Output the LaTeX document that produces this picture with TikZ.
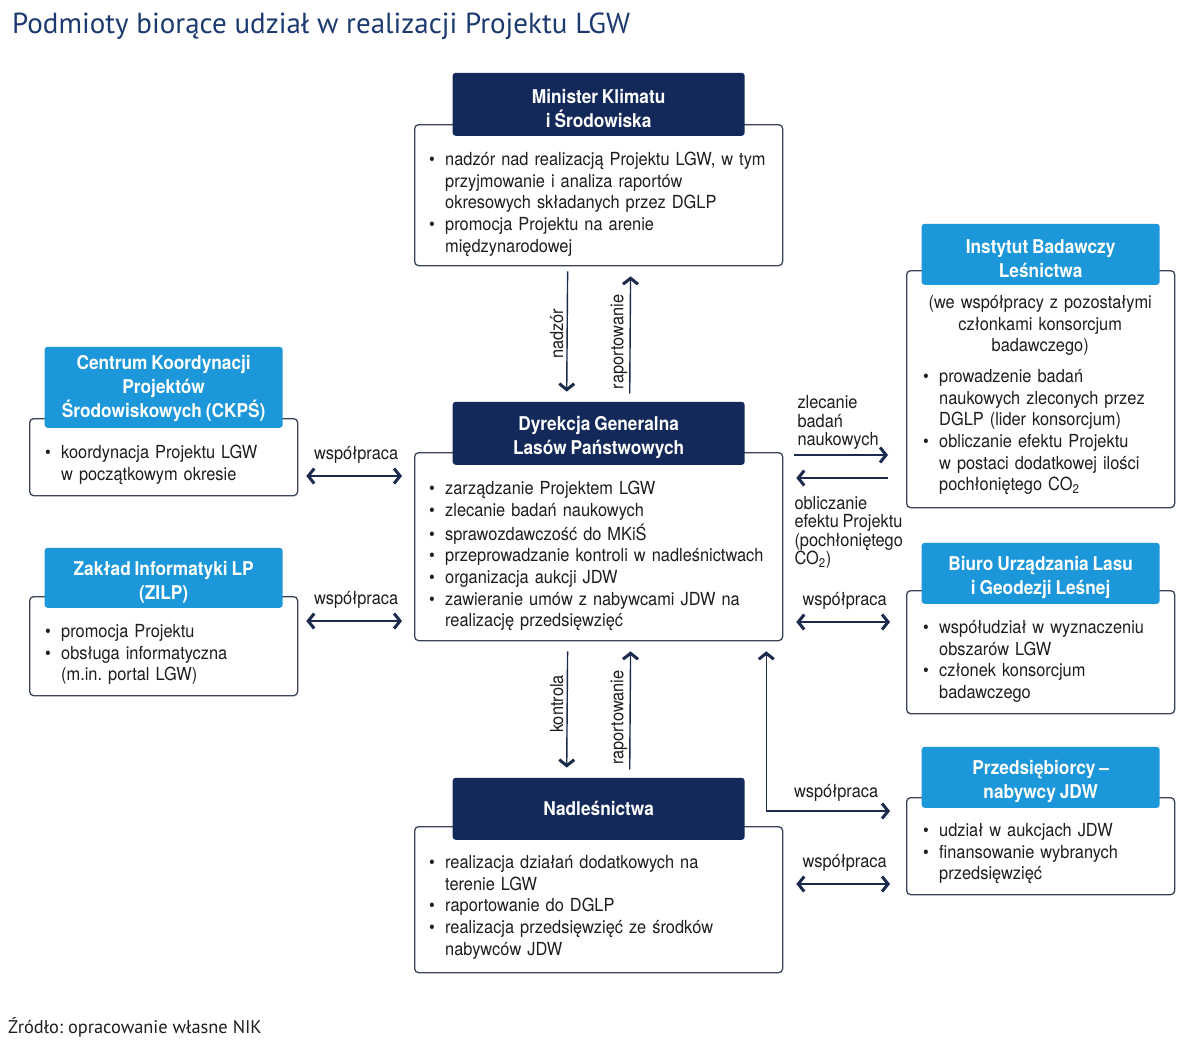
\documentclass[tikz,border=0pt]{standalone}
\usepackage{fontspec}
\setmainfont{TeX Gyre Heros}[FakeStretch=0.91, WordSpace=0.8]
\newfontfamily\titlefont{PT Sans}
\usetikzlibrary{positioning,arrows.meta}
\frenchspacing

\definecolor{navy}{HTML}{12295A}
\definecolor{sky}{HTML}{1B97DA}
\definecolor{ink}{HTML}{1E1E1E}
\definecolor{rim}{HTML}{3A4358}
\definecolor{linkcol}{HTML}{1C2A4E}
\definecolor{titlecol}{HTML}{1C3A70}

% bullet line with hanging indent, and a line break that keeps it
\newcommand\pkt{\par\noindent\hangindent=16pt\hangafter=1\strut\makebox[16pt][l]{\textbullet}}
\newcommand\lbr{\hfil\break}
% extra height on top of a header text
\newcommand\hs[1]{\rule{0pt}{#1}}

\tikzset{
  frame/.style={draw=rim, line width=1.3pt, rounded corners=4pt, fill=white,
    anchor=north west, inner sep=0pt},
  headDark/.style={fill=navy, rounded corners=3pt, text=white, align=center,
    font=\bfseries\fontsize{19}{24}\selectfont, minimum width=292pt,
    minimum height=63pt, inner sep=0pt},
  headLight/.style={headDark, fill=sky, minimum width=238pt, minimum height=61pt},
  items/.style={anchor=north west, inner sep=0pt, align=left, text=ink,
    font=\fontsize{18}{21.7}\selectfont},
  lbl/.style={text=ink, align=left, inner sep=0pt, font=\fontsize{18}{18.5}\selectfont},
  link/.style={draw=linkcol, line width=1.4pt,
    >={Straight Barb[length=6pt,width=15pt,line width=3pt]}},
}

\begin{document}
\begin{tikzpicture}[x=1pt, y=-1pt]

\useasboundingbox (0,0) rectangle (1200,1053);
\fill[white] (0,0) rectangle (1200,1053);

% title and source
\node[anchor=base west, inner sep=0pt, text=titlecol,
  font=\titlefont\fontsize{29}{31}\selectfont] (title) at (12,33)
  {Podmioty biorące udział w realizacji Projektu LGW};
\node[anchor=base west, inner sep=0pt, text=ink,
  font=\titlefont\fontsize{18.4}{20}\selectfont] (source) at (8,1033)
  {Źródło: opracowanie własne NIK};

% frames of the boxes
\path
 (414,124) node[frame, minimum width=368pt, minimum height=141pt] (mkisBody) {}
 (414,452) node[frame, minimum width=368pt, minimum height=188pt] (dglpBody) {}
 (414,826) node[frame, minimum width=368pt, minimum height=146pt] (nadlBody) {}
 (29,418)  node[frame, minimum width=268pt, minimum height=77pt]  (ckpsBody) {}
 (29,596)  node[frame, minimum width=268pt, minimum height=99pt]  (zilpBody) {}
 (906,270) node[frame, minimum width=268pt, minimum height=237pt] (iblBody) {}
 (906,590) node[frame, minimum width=268pt, minimum height=123pt] (buligBody) {}
 (906,797) node[frame, minimum width=268pt, minimum height=97pt]  (przedBody) {};

% headers, dark for the main chain, light for the partners
\node[headDark, above=-12pt of mkisBody.north] (mkisHead) {\hs{22pt}Minister Klimatu\\i Środowiska};
\node[headDark, above=-13pt of dglpBody.north] (dglpHead) {\hs{22pt}Dyrekcja Generalna\\Lasów Państwowych};
\node[headDark, above=-14pt of nadlBody.north, minimum height=62pt] (nadlHead) {Nadleśnictwa};
\node[headLight, above=-10pt of ckpsBody.north, minimum height=81pt] (ckpsHead)
  {\hs{17pt}Centrum Koordynacji\\Projektów\\Środowiskowych (CKPŚ)};
\node[headLight, above=-12pt of zilpBody.north, minimum height=60pt] (zilpHead)
  {\hs{23pt}Zakład Informatyki LP\\(ZILP)};
\node[headLight, above=-15pt of iblBody.north] (iblHead) {\hs{22pt}Instytut Badawczy\\Leśnictwa};
\node[headLight, above=-14pt of buligBody.north] (buligHead) {\hs{22pt}Biuro Urządzania Lasu\\i Geodezji Leśnej};
\node[headLight, above=-11pt of przedBody.north] (przedHead) {\hs{23pt}Przedsiębiorcy –\\nabywcy JDW};

% texts in the boxes
\node[items, text width=350pt] (mkisText) at ([xshift=15pt,yshift=-19.4pt]mkisBody.north west)
{\pkt nadzór nad realizacją Projektu LGW, w tym\lbr przyjmowanie i analiza raportów\lbr okresowych składanych przez DGLP
 \pkt promocja Projektu na arenie\lbr międzynarodowej\par};
\node[items, text width=350pt] (dglpText) at ([xshift=15pt,yshift=-20.4pt]dglpBody.north west)
{\pkt zarządzanie Projektem LGW
 \pkt zlecanie badań naukowych
 \pkt sprawozdawczość do MKiŚ
 \pkt przeprowadzanie kontroli w nadleśnictwach
 \pkt organizacja aukcji JDW
 \pkt zawieranie umów z nabywcami JDW na\lbr realizację przedsięwzięć\par};
\node[items, text width=350pt] (nadlText) at ([xshift=15pt,yshift=-20.4pt]nadlBody.north west)
{\pkt realizacja działań dodatkowych na\lbr terenie LGW
 \pkt raportowanie do DGLP
 \pkt realizacja przedsięwzięć ze środków\lbr nabywców JDW\par};
\node[items, text width=250pt] (ckpsText) at ([xshift=16pt,yshift=-18.4pt]ckpsBody.north west)
{\pkt koordynacja Projektu LGW\lbr w początkowym okresie\par};
\node[items, text width=250pt] (zilpText) at ([xshift=16pt,yshift=-19.4pt]zilpBody.north west)
{\pkt promocja Projektu
 \pkt obsługa informatyczna\lbr (m.in. portal LGW)\par};
\node[items, text width=234pt] (iblText) at ([xshift=17pt,yshift=-23pt]iblBody.north west)
{{\centering\strut(we współpracy z pozostałymi\\ członkami konsorcjum\\ badawczego)\par}
 \vspace{9pt}
 \pkt prowadzenie badań\lbr naukowych zleconych przez\lbr DGLP (lider konsorcjum)
 \pkt obliczanie efektu Projektu\lbr w postaci dodatkowej ilości\lbr pochłoniętego CO\textsubscript{2}\par};
\node[items, text width=250pt] (buligText) at ([xshift=17pt,yshift=-21.4pt]buligBody.north west)
{\pkt współudział w wyznaczeniu\lbr obszarów LGW
 \pkt członek konsorcjum\lbr badawczego\par};
\node[items, text width=250pt] (przedText) at ([xshift=17pt,yshift=-17.4pt]przedBody.north west)
{\pkt udział w aukcjach JDW
 \pkt finansowanie wybranych\lbr przedsięwzięć\par};

% minister <-> dglp
\draw[link, ->, shorten <=5pt, shorten >=10pt] ([xshift=-31pt]mkisBody.south) -- ([xshift=-32pt]dglpHead.north)
  node[lbl, pos=0.5, rotate=90, anchor=south, yshift=3pt] {nadzór};
\draw[link, ->, shorten <=8pt, shorten >=10pt] ([xshift=31pt]dglpHead.north) -- ([xshift=32pt]mkisBody.south)
  node[lbl, pos=0.44, rotate=90, anchor=south, yshift=2pt] {raportowanie};

% dglp <-> nadlesnictwa
\draw[link, ->, shorten <=10pt, shorten >=10pt] ([xshift=-31pt]dglpBody.south) -- ([xshift=-32pt]nadlHead.north)
  node[lbl, pos=0.46, rotate=90, anchor=south, yshift=3pt] {kontrola};
\draw[link, ->, shorten <=8pt, shorten >=10pt] ([xshift=31pt]nadlHead.north) -- ([xshift=32pt]dglpBody.south)
  node[lbl, pos=0.44, rotate=90, anchor=south, yshift=2pt] {raportowanie};

% left partners
\draw[link, <->, shorten <=8pt, shorten >=12pt] ([yshift=-58pt]ckpsBody.north east) coordinate (ckpsEnd)
  -- (ckpsEnd -| dglpBody.west) node[lbl, midway, above=12pt] {współpraca};
\draw[link, <->, shorten <=8pt, shorten >=12pt] ([yshift=-25pt]zilpBody.north east) coordinate (zilpEnd)
  -- (zilpEnd -| dglpBody.west) node[lbl, midway, above=12pt] {współpraca};

% research institute
\draw[link, ->, shorten <=11pt, shorten >=18pt] ([yshift=-3pt]dglpBody.north east) coordinate (zlecStart)
  -- (zlecStart -| iblBody.west);
\node[lbl, anchor=south west] (zlecLabel) at ([xshift=14pt,yshift=5pt]zlecStart) {zlecanie\\badań\\naukowych};
\draw[link, <-, shorten <=13pt, shorten >=18pt] ([yshift=-26pt]dglpBody.north east) coordinate (oblTip)
  -- (oblTip -| iblBody.west);
\node[lbl, anchor=north west] (oblLabel) at ([xshift=11pt,yshift=-18pt]oblTip)
  {obliczanie\\efektu Projektu\\(pochłoniętego\\CO\textsubscript{2})};

% right partners
\draw[link, <->, shorten <=16pt, shorten >=13pt] ([yshift=-32pt]buligBody.north west) coordinate (buligEnd)
  -- (buligEnd -| dglpBody.east) node[lbl, midway, above=12pt] {współpraca};
\draw[link, <->, shorten <=10pt, shorten >=16pt] ([xshift=-17pt]dglpBody.south east)
  |- ([yshift=-14pt]przedBody.north west) node[lbl, pos=0.75, above=9pt] {współpraca};
\draw[link, <->, shorten <=13pt, shorten >=16pt] ([yshift=-58pt]nadlBody.north east) coordinate (nadlEnd)
  -- (nadlEnd -| przedBody.west) node[lbl, midway, above=12pt] {współpraca};

\end{tikzpicture}
\end{document}
